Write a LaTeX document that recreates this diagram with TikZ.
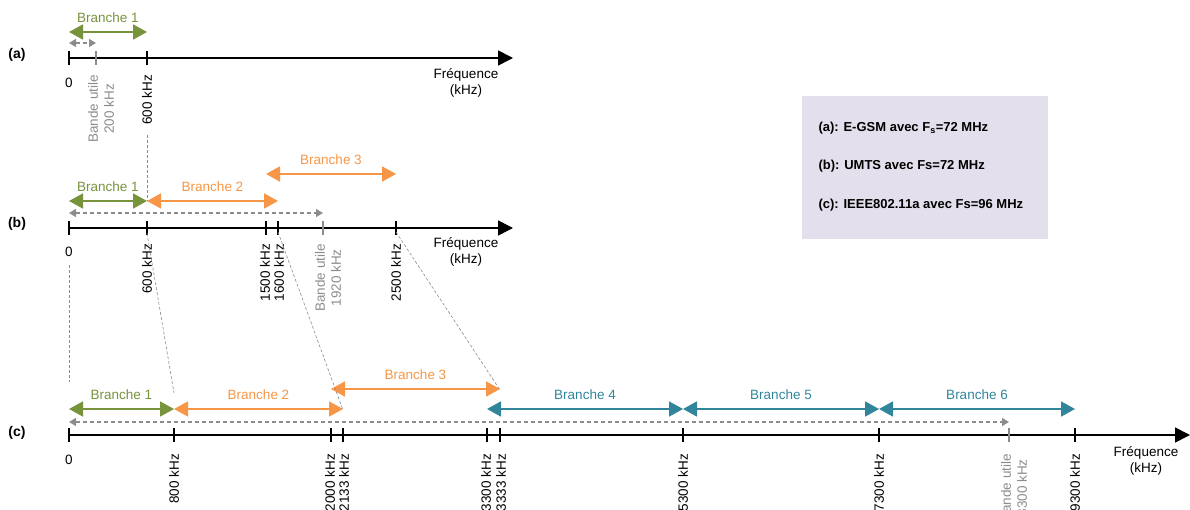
\documentclass[tikz,border=0pt]{standalone}
\usepackage{fontspec}
\setmainfont{Liberation Sans}
\usetikzlibrary{arrows.meta}
\definecolor{brgreen}{RGB}{119,147,60}
\definecolor{brorange}{RGB}{247,150,70}
\definecolor{brteal}{RGB}{49,133,155}
\definecolor{bandgrey}{RGB}{140,140,140}
\definecolor{legendfill}{RGB}{228,223,236}
\begin{document}
\begin{tikzpicture}[x=1pt, y=-1pt, font=\fontsize{13.5}{16}\selectfont,
  axe/.style={line width=1.6pt, -{Triangle[length=15pt,width=15pt]}},
  tick/.style={line width=1.4pt},
  bandtick/.style={line width=1.4pt, bandgrey},
  branch/.style={line width=1.8pt, {Triangle[length=14pt,width=15pt]}-{Triangle[length=14pt,width=15pt]}},
  bande/.style={line width=1.1pt, bandgrey, dash pattern=on 4pt off 3pt, {Triangle[length=7pt,width=8pt]}-{Triangle[length=7pt,width=8pt]}},
  link/.style={line width=0.6pt, bandgrey, dash pattern=on 3pt off 2pt},
  freq/.style={rotate=90, anchor=east, inner sep=1pt},
  lbl/.style={above=5pt, midway},
  row/.style={font=\fontsize{14}{16}\selectfont\bfseries},
  legrow/.style={anchor=west, font=\fontsize{13}{15}\selectfont\bfseries}]
  \useasboundingbox (0,0) rectangle (1190,510);

  % (a)
  \coordinate (a0) at (69,58);
  \coordinate (a200) at (96,58);
  \coordinate (a600) at (147,58);
  \coordinate (aend) at (513,58);
  \node[row] (la) at (17,55) {(a)};
  \draw[axe] (a0) -- (aend);
  \draw[tick] ([yshift=7pt]a0) -- ([yshift=-7pt]a0);
  \draw[bandtick] ([yshift=7pt]a200) -- ([yshift=-7pt]a200);
  \draw[tick] ([yshift=7pt]a600) -- ([yshift=-7pt]a600);
  \draw[branch, brgreen] ([yshift=26pt]a0) -- node[lbl] {Branche 1} ([yshift=26pt]a600);
  \draw[bande] ([yshift=15pt]a0) -- ([yshift=15pt]a200);
  \node (a0l) at (69,83) {0};
  \node[freq, bandgrey, align=center] (a200l) at (101,74) {Bande utile\\200 kHz};
  \node[freq] (a600l) at (147,74) {600 kHz};
  \node[align=center] (afreq) at (466,83) {Fréquence\\(kHz)};

  % (b)
  \coordinate (b0) at (69,228);
  \coordinate (b600) at (147,228);
  \coordinate (b1500) at (266,228);
  \coordinate (b1600) at (278,228);
  \coordinate (b1920) at (323,228);
  \coordinate (b2500) at (396,228);
  \coordinate (bend) at (513,228);
  \node[row] (lb) at (17,224) {(b)};
  \draw[axe] (b0) -- (bend);
  \draw[tick] ([yshift=7pt]b0) -- ([yshift=-7pt]b0);
  \draw[tick] ([yshift=7pt]b600) -- ([yshift=-7pt]b600);
  \draw[tick] ([yshift=7pt]b1500) -- ([yshift=-7pt]b1500);
  \draw[tick] ([yshift=7pt]b1600) -- ([yshift=-7pt]b1600);
  \draw[bandtick] ([yshift=7pt]b1920) -- ([yshift=-7pt]b1920);
  \draw[tick] ([yshift=7pt]b2500) -- ([yshift=-7pt]b2500);
  \draw[branch, brgreen] ([yshift=27pt]b0) -- node[lbl] {Branche 1} ([yshift=27pt]b600);
  \draw[branch, brorange] ([yshift=27pt]b600) -- node[lbl] {Branche 2} ([yshift=27pt]b1600);
  \draw[branch, brorange] ([yshift=54pt]b1500) -- node[lbl] {Branche 3} ([yshift=54pt]b2500);
  \draw[bande] ([yshift=15pt]b0) -- ([yshift=15pt]b1920);
  \node (b0l) at (69,252) {0};
  \node[freq] (b600l) at (147,243) {600 kHz};
  \node[freq] (b1500l) at (265,243) {1500 kHz};
  \node[freq] (b1600l) at (279,243) {1600 kHz};
  \node[freq, bandgrey, align=center] (b1920l) at (328,243) {Bande utile\\1920 kHz};
  \node[freq] (b2500l) at (396,243) {2500 kHz};
  \node[align=center] (bfreq) at (466,252) {Fréquence\\(kHz)};

  % (c)
  \coordinate (c0) at (69,435);
  \coordinate (c800) at (174,435);
  \coordinate (c2000) at (331,435);
  \coordinate (c2133) at (343,435);
  \coordinate (c3300) at (487,435);
  \coordinate (c3333) at (500,435);
  \coordinate (c5300) at (683,435);
  \coordinate (c7300) at (879,435);
  \coordinate (c8300) at (1009,435);
  \coordinate (c9300) at (1075,435);
  \coordinate (cend) at (1190,435);
  \node[row] (lc) at (17,433) {(c)};
  \draw[axe] (c0) -- (cend);
  \draw[tick] ([yshift=7pt]c0) -- ([yshift=-7pt]c0);
  \draw[tick] ([yshift=7pt]c800) -- ([yshift=-7pt]c800);
  \draw[tick] ([yshift=7pt]c2000) -- ([yshift=-7pt]c2000);
  \draw[tick] ([yshift=7pt]c2133) -- ([yshift=-7pt]c2133);
  \draw[tick] ([yshift=7pt]c3300) -- ([yshift=-7pt]c3300);
  \draw[tick] ([yshift=7pt]c3333) -- ([yshift=-7pt]c3333);
  \draw[tick] ([yshift=7pt]c5300) -- ([yshift=-7pt]c5300);
  \draw[tick] ([yshift=7pt]c7300) -- ([yshift=-7pt]c7300);
  \draw[bandtick] ([yshift=7pt]c8300) -- ([yshift=-7pt]c8300);
  \draw[tick] ([yshift=7pt]c9300) -- ([yshift=-7pt]c9300);
  \draw[branch, brgreen] ([yshift=26pt]c0) -- node[lbl] {Branche 1} ([yshift=26pt]c800);
  \draw[branch, brorange] ([yshift=26pt]c800) -- node[lbl] {Branche 2} ([yshift=26pt]c2133);
  \draw[branch, brorange] ([yshift=46pt]c2000) -- node[lbl] {Branche 3} ([yshift=46pt]c3333);
  \draw[branch, brteal] ([yshift=26pt]c3300) -- node[lbl] {Branche 4} ([yshift=26pt]c5300);
  \draw[branch, brteal] ([yshift=26pt]c5300) -- node[lbl] {Branche 5} ([yshift=26pt]c7300);
  \draw[branch, brteal] ([yshift=26pt]c7300) -- node[lbl] {Branche 6} ([yshift=26pt]c9300);
  \draw[bande] ([yshift=13pt]c0) -- ([yshift=13pt]c8300);
  \node (c0l) at (69,460) {0};
  \node[freq] (c800l) at (174,453) {800 kHz};
  \node[freq] (c2000l) at (330,453) {2000 kHz};
  \node[freq] (c2133l) at (344,453) {2133 kHz};
  \node[freq] (c3300l) at (486,453) {3300 kHz};
  \node[freq] (c3333l) at (501,453) {3333 kHz};
  \node[freq] (c5300l) at (683,453) {5300 kHz};
  \node[freq] (c7300l) at (879,453) {7300 kHz};
  \node[freq, bandgrey, align=center] (c8300l) at (1014,453) {Bande utile\\8300 kHz};
  \node[freq] (c9300l) at (1075,453) {9300 kHz};
  \node[align=center] (cfreq) at (1146,461) {Fréquence\\(kHz)};

  % liens entre les axes
  \coordinate (a600low) at (147,135);
  \draw[link] (a600low) -- ([yshift=27pt]b600);
  \coordinate (b0low) at (69,265);
  \coordinate (c0high) at (69,382);
  \draw[link] (b0low) -- (c0high);
  \draw[link] ([yshift=-5pt]b600) -- ([yshift=42pt]c800);
  \draw[link] ([yshift=-4pt]b1600) -- ([yshift=25pt]c2133);
  \draw[link] ([yshift=-4pt]b2500) -- ([yshift=45pt]c3333);

  % legende
  \node[fill=legendfill, minimum width=246pt, minimum height=143pt, anchor=north west] (legend) at (802,96) {};
  \node[legrow] (leg1) at (815,128) {(a): E-GSM avec F\textsubscript{s}=72 MHz};
  \node[legrow] (leg2) at (815,166) {(b): UMTS avec Fs=72 MHz};
  \node[legrow] (leg3) at (815,205) {(c): IEEE802.11a avec Fs=96 MHz};
\end{tikzpicture}
\end{document}
